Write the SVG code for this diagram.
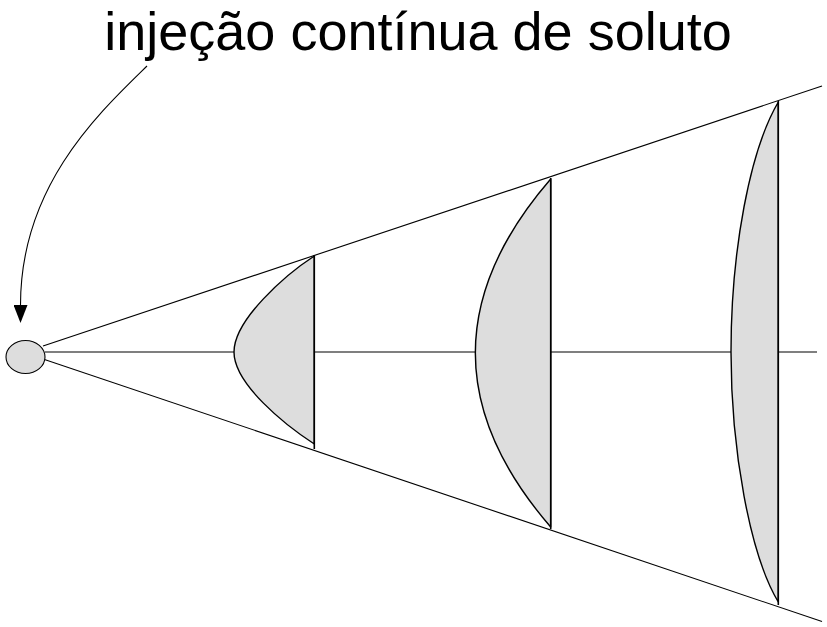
<svg xmlns="http://www.w3.org/2000/svg" width="827" height="627" viewBox="0 0 827 627">
  <style>
    .ln { fill: none; stroke: #000; stroke-width: 1.1; }
    .prof { fill: #dddddd; stroke: #000; stroke-width: 1.4; stroke-linejoin: round; }
    .edge { fill: none; stroke: #000; stroke-width: 1.6; }
    .title { font-family: "Liberation Sans", Arial, sans-serif; font-size: 54px; fill: #000; }
  </style>
  <defs>
    <marker id="arrow" viewBox="0 0 18 14" refX="0" refY="7" markerWidth="18" markerHeight="14" markerUnits="userSpaceOnUse" orient="auto">
      <path d="M0,0 L18,7 L0,14 z" fill="#000"/>
    </marker>
  </defs>
  <rect width="827" height="627" fill="#fff"/>

  <g id="title">
    <text class="title" x="418" y="50" text-anchor="middle">injeção contínua de soluto</text>
  </g>

  <g id="connectors">
    <line class="ln" x1="43" y1="346" x2="822" y2="86"/>
    <line class="ln" x1="43" y1="359" x2="822" y2="621.5"/>
    <line class="ln" x1="45" y1="352" x2="817" y2="352"/>
    <path class="ln" d="M147,66 C100,112 20.5,185 20.5,305" marker-end="url(#arrow)"/>
  </g>

  <g id="source">
    <ellipse cx="25.5" cy="357" rx="19.5" ry="16.5" fill="#dddddd" stroke="#000" stroke-width="1.1"/>
  </g>

  <g id="profile1">
    <path class="prof" d="M314.3,256 C285,275 234,320 234,352 C234,384 285,425 314.3,444 Z"/>
    <line class="edge" x1="314.3" y1="255" x2="314.3" y2="449"/>
  </g>

  <g id="profile2">
    <path class="prof" d="M550.7,179 Q400,353 550.7,527 Z"/>
    <line class="edge" x1="550.7" y1="178" x2="550.7" y2="529"/>
  </g>

  <g id="profile3">
    <path class="prof" d="M778.3,102 C750,150 731,250 731,352 C731,450 750,555 778.3,602 Z"/>
    <line class="edge" x1="778.3" y1="101" x2="778.3" y2="605"/>
  </g>
</svg>
